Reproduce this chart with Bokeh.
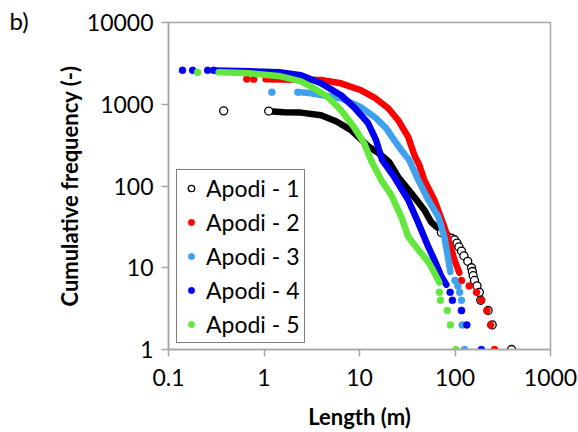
from bokeh.plotting import figure
from bokeh.models import FixedTicker, NumeralTickFormatter, Legend, LegendItem, Label
from bokeh.embed import file_html
from bokeh.resources import INLINE

names = ["Apodi - 1", "Apodi - 2", "Apodi - 3", "Apodi - 4", "Apodi - 5"]
x_ticks = [0.1, 1, 10, 100, 1000]
y_ticks = [1, 10, 100, 1000, 10000]

# Apodi - 1 (open circles)
a1_band_len = [1.12, 1.61, 2.44, 3.95, 5.68, 8.16, 12.3, 16.9, 20.5, 25.4, 34.8, 47.7, 56.5, 65.3]
a1_band_freq = [822, 800, 790, 734, 620, 482, 307, 239, 196, 129, 82, 51, 36, 31]
a1_pts_len = [0.378, 1.12, 72, 81, 92, 99, 105, 110, 117, 124, 136, 149, 152, 155, 160, 170, 180, 186, 222, 245, 391]
a1_pts_freq = [830, 825, 27, 25, 23, 22, 20, 18, 16, 14, 12, 10, 9, 8, 7, 6, 5, 4, 3, 2, 1]

# Apodi - 2
a2_band_len = [1.04, 2.44, 3.95, 6.41, 10.4, 14.2, 20.0, 25.4, 32.4, 37.5, 42.3, 47.7, 60.8, 77.4, 87.4, 98.6, 111]
a2_band_freq = [2020, 2000, 1980, 1803, 1482, 1217, 893, 638, 396, 239, 180, 118, 67.5, 31.6, 20.2, 12.5, 8.7]
a2_pts_len = [0.66, 0.78, 117, 141, 168, 189, 216, 236, 259]
a2_pts_freq = [2030, 2028, 7, 6, 5, 4, 3, 2, 1]

# Apodi - 3
a3_band_len = [2.44, 3.10, 6.41, 10.4, 14.9, 19.0, 23.1, 27.4, 33.2, 41.3, 52.6, 67.0, 77.4, 85.3, 89.5]
a3_band_freq = [1400, 1362, 1184, 919, 675, 510, 364, 275, 207, 118, 67.5, 41.9, 23.9, 12.5, 8.9]
a3_pts_len = [1.21, 2.26, 100, 107, 112, 117, 117, 119, 126]
a3_pts_freq = [1405, 1403, 7, 6, 5, 4, 3, 2, 1]

# Apodi - 4
a4_band_len = [0.312, 0.726, 1.50, 2.44, 3.95, 6.41, 8.77, 12.3, 14.9, 17.3, 23.1, 32.4, 41.3, 52.6, 60.8, 72.0, 81.3]
a4_band_freq = [2596, 2525, 2455, 2258, 1803, 1288, 919, 586, 364, 207, 129, 67.5, 35.4, 18.0, 12.5, 7.8, 6.2]
a4_pts_len = [0.140, 0.179, 0.257, 0.297, 89, 94, 117, 133, 189]
a4_pts_freq = [2600, 2599, 2598, 2597, 5, 4, 3, 2, 1]

# Apodi - 5
a5_band_len = [0.335, 0.726, 1.50, 2.44, 3.34, 4.68, 6.41, 8.77, 11.2, 13.2, 16.9, 21.5, 27.4, 32.4, 41.3, 52.6, 60.8, 68.6]
a5_band_freq = [2455, 2387, 2195, 1907, 1566, 1217, 845, 524, 334, 207, 118, 77.6, 41.9, 23.9, 16.6, 11.8, 8.7, 6.6]
a5_pts_len = [0.202, 68.6, 70.3, 83, 89.5, 102]
a5_pts_freq = [2460, 5, 4, 3, 2, 1]

colors = ["#000000", "#ff0000", "#3fa0ee", "#0000f0", "#62e83c"]

bands = [(a1_band_len, a1_band_freq), (a2_band_len, a2_band_freq), (a3_band_len, a3_band_freq),
         (a4_band_len, a4_band_freq), (a5_band_len, a5_band_freq)]
pts = [(a1_pts_len, a1_pts_freq), (a2_pts_len, a2_pts_freq), (a3_pts_len, a3_pts_freq),
       (a4_pts_len, a4_pts_freq), (a5_pts_len, a5_pts_freq)]

FONT = "Lato"
GRAY = "#a6a6a6"

p = figure(width=578, height=432, x_axis_type="log", y_axis_type="log",
           x_range=(0.1, 1000), y_range=(1, 10000),
           output_backend="svg", toolbar_location=None,
           min_border_left=168, min_border_right=28, min_border_top=22, min_border_bottom=82)
p.background_fill_color = "white"
p.border_fill_color = "white"
p.outline_line_color = GRAY
p.outline_line_width = 1.5
p.xgrid.visible = False
p.ygrid.visible = False
p.title.visible = False

items = []
for i in range(5):
    bl, bf = bands[i]
    pl, pf = pts[i]
    c = colors[i]
    p.line(bl, bf, line_color=c, line_width=6.5, line_cap="round", line_join="round")
    if i == 0:
        r = p.scatter(pl, pf, marker="circle", size=8, fill_color="white", line_color="black", line_width=1.3)
    else:
        r = p.scatter(pl, pf, marker="circle", size=7, fill_color=c, line_color=c, line_width=0.5)
    items.append(LegendItem(label=names[i], renderers=[r]))

for ax in (p.xaxis[0], p.yaxis[0]):
    ax.axis_line_color = GRAY
    ax.axis_line_width = 1.5
    ax.major_tick_line_color = GRAY
    ax.major_tick_line_width = 1.5
    ax.minor_tick_line_color = None
    ax.major_tick_in = 0
    ax.major_tick_out = 7
    ax.major_label_text_font = FONT
    ax.major_label_text_font_size = "23px"
    ax.major_label_text_color = "black"
    ax.axis_label_text_font = FONT
    ax.axis_label_text_font_size = "22px"
    ax.axis_label_text_font_style = "bold"
    ax.axis_label_text_color = "black"
    ax.formatter = NumeralTickFormatter(format="0.[0]")

p.xaxis[0].ticker = FixedTicker(ticks=x_ticks)
p.yaxis[0].ticker = FixedTicker(ticks=y_ticks)
p.xaxis[0].axis_label = "Length (m)"
p.yaxis[0].axis_label = "Cumulative frequency (-)"
p.xaxis[0].major_label_standoff = 12
p.xaxis[0].axis_label_standoff = 14
p.yaxis[0].major_label_standoff = 8
p.yaxis[0].axis_label_standoff = 1

legend = Legend(items=items, location=(8, 6), orientation="vertical",
                padding=4, spacing=6, glyph_width=20, glyph_height=16,
                label_height=27, label_width=88, label_standoff=5,
                label_text_font=FONT, label_text_font_size="23px", label_text_color="black",
                border_line_color="black", border_line_width=1.2,
                background_fill_color="white", background_fill_alpha=1.0)
p.add_layout(legend)

# panel tag "b)" placed in the left side panel (outside the clipped frame);
# the left border is wide enough that it does not move the frame
tag = Label(x=9, y=329, x_units="canvas", y_units="screen", text="b)",
            text_font=FONT, text_font_size="24px", text_color="black",
            text_align="left", text_baseline="middle")
p.add_layout(tag, "left")

open("out.html", "w").write(file_html(p, INLINE))
